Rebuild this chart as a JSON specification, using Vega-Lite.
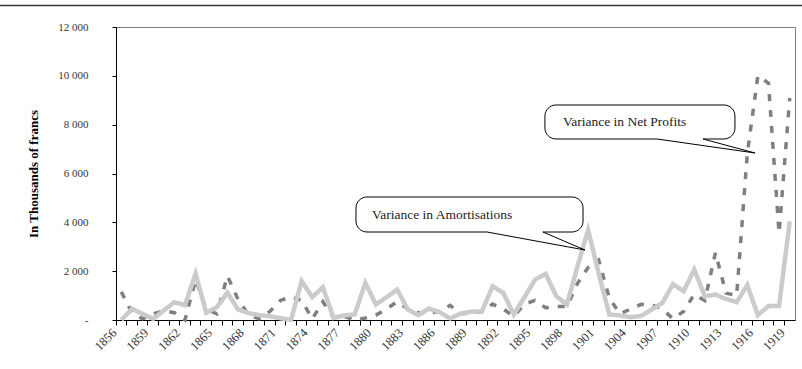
{
  "$schema": "https://vega.github.io/schema/vega-lite/v6.json",
  "width": 679,
  "height": 293,
  "autosize": "none",
  "padding": {"left": 116, "top": 27, "right": 7, "bottom": 49},
  "background": "white",
  "config": {"view": {"stroke": "#808080", "strokeWidth": 1}, "font": "Liberation Serif"},
  "datasets": {
    "series": [
      {"year": 1856, "series": "Variance in Net Profits", "value": 1150},
      {"year": 1857, "series": "Variance in Net Profits", "value": 300},
      {"year": 1858, "series": "Variance in Net Profits", "value": 50},
      {"year": 1859, "series": "Variance in Net Profits", "value": 250},
      {"year": 1860, "series": "Variance in Net Profits", "value": 380},
      {"year": 1861, "series": "Variance in Net Profits", "value": 300},
      {"year": 1862, "series": "Variance in Net Profits", "value": 0},
      {"year": 1863, "series": "Variance in Net Profits", "value": 1650},
      {"year": 1864, "series": "Variance in Net Profits", "value": 450},
      {"year": 1865, "series": "Variance in Net Profits", "value": 250},
      {"year": 1866, "series": "Variance in Net Profits", "value": 1800},
      {"year": 1867, "series": "Variance in Net Profits", "value": 850},
      {"year": 1868, "series": "Variance in Net Profits", "value": 200},
      {"year": 1869, "series": "Variance in Net Profits", "value": 50},
      {"year": 1870, "series": "Variance in Net Profits", "value": 350},
      {"year": 1871, "series": "Variance in Net Profits", "value": 800},
      {"year": 1872, "series": "Variance in Net Profits", "value": 950},
      {"year": 1873, "series": "Variance in Net Profits", "value": 800},
      {"year": 1874, "series": "Variance in Net Profits", "value": 50},
      {"year": 1875, "series": "Variance in Net Profits", "value": 750},
      {"year": 1876, "series": "Variance in Net Profits", "value": 100},
      {"year": 1877, "series": "Variance in Net Profits", "value": 150},
      {"year": 1878, "series": "Variance in Net Profits", "value": 0},
      {"year": 1879, "series": "Variance in Net Profits", "value": 80},
      {"year": 1880, "series": "Variance in Net Profits", "value": 200},
      {"year": 1881, "series": "Variance in Net Profits", "value": 450},
      {"year": 1882, "series": "Variance in Net Profits", "value": 750},
      {"year": 1883, "series": "Variance in Net Profits", "value": 450},
      {"year": 1884, "series": "Variance in Net Profits", "value": 300},
      {"year": 1885, "series": "Variance in Net Profits", "value": 280},
      {"year": 1886, "series": "Variance in Net Profits", "value": 350},
      {"year": 1887, "series": "Variance in Net Profits", "value": 600},
      {"year": 1888, "series": "Variance in Net Profits", "value": 250},
      {"year": 1889, "series": "Variance in Net Profits", "value": 300},
      {"year": 1890, "series": "Variance in Net Profits", "value": 350},
      {"year": 1891, "series": "Variance in Net Profits", "value": 650},
      {"year": 1892, "series": "Variance in Net Profits", "value": 450},
      {"year": 1893, "series": "Variance in Net Profits", "value": 150},
      {"year": 1894, "series": "Variance in Net Profits", "value": 650},
      {"year": 1895, "series": "Variance in Net Profits", "value": 800},
      {"year": 1896, "series": "Variance in Net Profits", "value": 500},
      {"year": 1897, "series": "Variance in Net Profits", "value": 550},
      {"year": 1898, "series": "Variance in Net Profits", "value": 550},
      {"year": 1899, "series": "Variance in Net Profits", "value": 1500},
      {"year": 1900, "series": "Variance in Net Profits", "value": 2150},
      {"year": 1901, "series": "Variance in Net Profits", "value": 2450},
      {"year": 1902, "series": "Variance in Net Profits", "value": 900},
      {"year": 1903, "series": "Variance in Net Profits", "value": 250},
      {"year": 1904, "series": "Variance in Net Profits", "value": 450},
      {"year": 1905, "series": "Variance in Net Profits", "value": 640},
      {"year": 1906, "series": "Variance in Net Profits", "value": 620},
      {"year": 1907, "series": "Variance in Net Profits", "value": 450},
      {"year": 1908, "series": "Variance in Net Profits", "value": 50},
      {"year": 1909, "series": "Variance in Net Profits", "value": 350},
      {"year": 1910, "series": "Variance in Net Profits", "value": 1050},
      {"year": 1911, "series": "Variance in Net Profits", "value": 800},
      {"year": 1912, "series": "Variance in Net Profits", "value": 2750},
      {"year": 1913, "series": "Variance in Net Profits", "value": 1100},
      {"year": 1914, "series": "Variance in Net Profits", "value": 1000},
      {"year": 1915, "series": "Variance in Net Profits", "value": 6800},
      {"year": 1916, "series": "Variance in Net Profits", "value": 10000},
      {"year": 1917, "series": "Variance in Net Profits", "value": 9700},
      {"year": 1918, "series": "Variance in Net Profits", "value": 3550},
      {"year": 1919, "series": "Variance in Net Profits", "value": 9100},
      {"year": 1856, "series": "Variance in Amortisations", "value": 0},
      {"year": 1857, "series": "Variance in Amortisations", "value": 458},
      {"year": 1858, "series": "Variance in Amortisations", "value": 250},
      {"year": 1859, "series": "Variance in Amortisations", "value": 50},
      {"year": 1860, "series": "Variance in Amortisations", "value": 390},
      {"year": 1861, "series": "Variance in Amortisations", "value": 728},
      {"year": 1862, "series": "Variance in Amortisations", "value": 605},
      {"year": 1863, "series": "Variance in Amortisations", "value": 1900},
      {"year": 1864, "series": "Variance in Amortisations", "value": 294},
      {"year": 1865, "series": "Variance in Amortisations", "value": 523},
      {"year": 1866, "series": "Variance in Amortisations", "value": 1112},
      {"year": 1867, "series": "Variance in Amortisations", "value": 430},
      {"year": 1868, "series": "Variance in Amortisations", "value": 280},
      {"year": 1869, "series": "Variance in Amortisations", "value": 200},
      {"year": 1870, "series": "Variance in Amortisations", "value": 150},
      {"year": 1871, "series": "Variance in Amortisations", "value": 70},
      {"year": 1872, "series": "Variance in Amortisations", "value": 10},
      {"year": 1873, "series": "Variance in Amortisations", "value": 1590},
      {"year": 1874, "series": "Variance in Amortisations", "value": 940},
      {"year": 1875, "series": "Variance in Amortisations", "value": 1340},
      {"year": 1876, "series": "Variance in Amortisations", "value": 90},
      {"year": 1877, "series": "Variance in Amortisations", "value": 184},
      {"year": 1878, "series": "Variance in Amortisations", "value": 225},
      {"year": 1879, "series": "Variance in Amortisations", "value": 1520},
      {"year": 1880, "series": "Variance in Amortisations", "value": 634},
      {"year": 1881, "series": "Variance in Amortisations", "value": 933},
      {"year": 1882, "series": "Variance in Amortisations", "value": 1247},
      {"year": 1883, "series": "Variance in Amortisations", "value": 430},
      {"year": 1884, "series": "Variance in Amortisations", "value": 197},
      {"year": 1885, "series": "Variance in Amortisations", "value": 470},
      {"year": 1886, "series": "Variance in Amortisations", "value": 320},
      {"year": 1887, "series": "Variance in Amortisations", "value": 60},
      {"year": 1888, "series": "Variance in Amortisations", "value": 265},
      {"year": 1889, "series": "Variance in Amortisations", "value": 335},
      {"year": 1890, "series": "Variance in Amortisations", "value": 360},
      {"year": 1891, "series": "Variance in Amortisations", "value": 1383},
      {"year": 1892, "series": "Variance in Amortisations", "value": 1111},
      {"year": 1893, "series": "Variance in Amortisations", "value": 225},
      {"year": 1894, "series": "Variance in Amortisations", "value": 933},
      {"year": 1895, "series": "Variance in Amortisations", "value": 1656},
      {"year": 1896, "series": "Variance in Amortisations", "value": 1889},
      {"year": 1897, "series": "Variance in Amortisations", "value": 975},
      {"year": 1898, "series": "Variance in Amortisations", "value": 634},
      {"year": 1899, "series": "Variance in Amortisations", "value": 2200},
      {"year": 1900, "series": "Variance in Amortisations", "value": 3690},
      {"year": 1901, "series": "Variance in Amortisations", "value": 1900},
      {"year": 1902, "series": "Variance in Amortisations", "value": 225},
      {"year": 1903, "series": "Variance in Amortisations", "value": 180},
      {"year": 1904, "series": "Variance in Amortisations", "value": 115},
      {"year": 1905, "series": "Variance in Amortisations", "value": 170},
      {"year": 1906, "series": "Variance in Amortisations", "value": 430},
      {"year": 1907, "series": "Variance in Amortisations", "value": 703},
      {"year": 1908, "series": "Variance in Amortisations", "value": 1466},
      {"year": 1909, "series": "Variance in Amortisations", "value": 1180},
      {"year": 1910, "series": "Variance in Amortisations", "value": 2065},
      {"year": 1911, "series": "Variance in Amortisations", "value": 975},
      {"year": 1912, "series": "Variance in Amortisations", "value": 1043},
      {"year": 1913, "series": "Variance in Amortisations", "value": 860},
      {"year": 1914, "series": "Variance in Amortisations", "value": 730},
      {"year": 1915, "series": "Variance in Amortisations", "value": 1430},
      {"year": 1916, "series": "Variance in Amortisations", "value": 200},
      {"year": 1917, "series": "Variance in Amortisations", "value": 570},
      {"year": 1918, "series": "Variance in Amortisations", "value": 570},
      {"year": 1919, "series": "Variance in Amortisations", "value": 4040}
    ]
  },
  "layer": [
    {
      "data": {"name": "series"},
      "layer": [
        {
          "transform": [{"filter": "datum.series == 'Variance in Net Profits'"}],
          "mark": {"type": "line", "color": "#7f7f7f", "strokeWidth": 3.5, "strokeDash": [7, 9], "strokeCap": "butt"},
          "encoding": {
            "x": {"field": "year", "type": "ordinal", "sort": "ascending",
              "scale": {"type": "band", "paddingInner": 0, "paddingOuter": 0},
              "axis": {"title": null, "labelAngle": -45, "labelAlign": "right", "labelBaseline": "top", "labelFontSize": 12.5, "labelFont": "Liberation Serif", "labelColor": "#333333", "bandPosition": 0, "labelOffset": -11, "tickSize": 5, "tickColor": "black", "domainColor": "black", "labelPadding": 1, "labelOverlap": false, "grid": false,
                "labelExpr": "(datum.value - 1856) % 3 == 0 ? datum.label : ''"}},
            "y": {"field": "value", "type": "quantitative",
              "scale": {"domain": [0, 12000], "nice": false},
              "axis": {"title": "In Thousands of francs", "titleFont": "Liberation Serif", "titleFontWeight": "bold", "titleFontSize": 13, "titleColor": "black", "titlePadding": 17,
                "values": [0, 2000, 4000, 6000, 8000, 10000, 12000],
                "labelExpr": "datum.value == 0 ? '-\u00a0\u00a0\u00a0\u00a0\u00a0\u00a0' : replace(format(datum.value, ','), ',', ' ')",
                "labelFontSize": 11, "labelFont": "Liberation Serif", "labelColor": "#333333", "labelPadding": 24, "tickSize": 4, "tickColor": "black", "domainColor": "black", "grid": false}}
          }
        },
        {
          "transform": [{"filter": "datum.series == 'Variance in Amortisations'"}],
          "mark": {"type": "line", "color": "#cbcbcb", "strokeWidth": 4.5},
          "encoding": {
            "x": {"field": "year", "type": "ordinal", "sort": "ascending"},
            "y": {"field": "value", "type": "quantitative"}
          }
        }
      ]
    },
    {
      "data": {"values": [{}]},
      "layer": [
        {
          "mark": {"type": "rule", "color": "#333333", "strokeWidth": 1.5, "clip": false},
          "encoding": {
            "x": {"datum": 1844.57, "type": "quantitative", "scale": {"domain": [1855.5, 1919.5], "nice": false, "zero": false}, "axis": null},
            "x2": {"datum": 1920.3},
            "y": {"datum": 12880, "type": "quantitative", "scale": {"domain": [0, 12000], "nice": false}, "axis": null}
          }
        },
        {
          "mark": {"type": "rect", "fill": "white", "stroke": "black", "strokeWidth": 1, "cornerRadius": 11},
          "encoding": {
            "x": {"datum": 1895.93, "type": "quantitative", "axis": null},
            "x2": {"datum": 1913.84},
            "y": {"datum": 8806, "type": "quantitative", "axis": null},
            "y2": {"datum": 7413}
          }
        },
        {
          "mark": {"type": "rule", "color": "white", "strokeWidth": 2},
          "encoding": {
            "x": {"datum": 1906.49, "type": "quantitative", "axis": null},
            "x2": {"datum": 1910.83},
            "y": {"datum": 7413, "type": "quantitative", "axis": null}
          }
        },
        {
          "mark": {"type": "rule", "color": "black", "strokeWidth": 1},
          "encoding": {
            "x": {"datum": 1906.49, "type": "quantitative", "axis": null},
            "x2": {"datum": 1915.73},
            "y": {"datum": 7413, "type": "quantitative", "axis": null},
            "y2": {"datum": 6840}
          }
        },
        {
          "mark": {"type": "rule", "color": "black", "strokeWidth": 1},
          "encoding": {
            "x": {"datum": 1910.83, "type": "quantitative", "axis": null},
            "x2": {"datum": 1915.73},
            "y": {"datum": 7413, "type": "quantitative", "axis": null},
            "y2": {"datum": 6840}
          }
        },
        {
          "mark": {"type": "rect", "fill": "white", "stroke": "black", "strokeWidth": 1, "cornerRadius": 11},
          "encoding": {
            "x": {"datum": 1878.12, "type": "quantitative", "axis": null},
            "x2": {"datum": 1899.52},
            "y": {"datum": 5038, "type": "quantitative", "axis": null},
            "y2": {"datum": 3604}
          }
        },
        {
          "mark": {"type": "rule", "color": "white", "strokeWidth": 2},
          "encoding": {
            "x": {"datum": 1890.47, "type": "quantitative", "axis": null},
            "x2": {"datum": 1895.74},
            "y": {"datum": 3604, "type": "quantitative", "axis": null}
          }
        },
        {
          "mark": {"type": "rule", "color": "black", "strokeWidth": 1},
          "encoding": {
            "x": {"datum": 1890.47, "type": "quantitative", "axis": null},
            "x2": {"datum": 1899.7},
            "y": {"datum": 3604, "type": "quantitative", "axis": null},
            "y2": {"datum": 2867}
          }
        },
        {
          "mark": {"type": "rule", "color": "black", "strokeWidth": 1},
          "encoding": {
            "x": {"datum": 1895.74, "type": "quantitative", "axis": null},
            "x2": {"datum": 1899.7},
            "y": {"datum": 3604, "type": "quantitative", "axis": null},
            "y2": {"datum": 2867}
          }
        },
        {
          "data": {"values": [{"label": "Variance in Net Profits"}]},
          "mark": {"type": "text", "align": "left", "baseline": "middle", "font": "Liberation Serif", "fontSize": 13.5, "color": "#222222"},
          "encoding": {
            "x": {"datum": 1897.63, "type": "quantitative", "axis": null},
            "y": {"datum": 8109, "type": "quantitative", "axis": null},
            "text": {"field": "label"}
          }
        },
        {
          "data": {"values": [{"label": "Variance in Amortisations"}]},
          "mark": {"type": "text", "align": "left", "baseline": "middle", "font": "Liberation Serif", "fontSize": 13.5, "color": "#222222"},
          "encoding": {
            "x": {"datum": 1879.63, "type": "quantitative", "axis": null},
            "y": {"datum": 4300, "type": "quantitative", "axis": null},
            "text": {"field": "label"}
          }
        }
      ]
    }
  ],
  "resolve": {"scale": {"x": "independent", "y": "independent"}, "axis": {"x": "independent", "y": "independent"}}
}
